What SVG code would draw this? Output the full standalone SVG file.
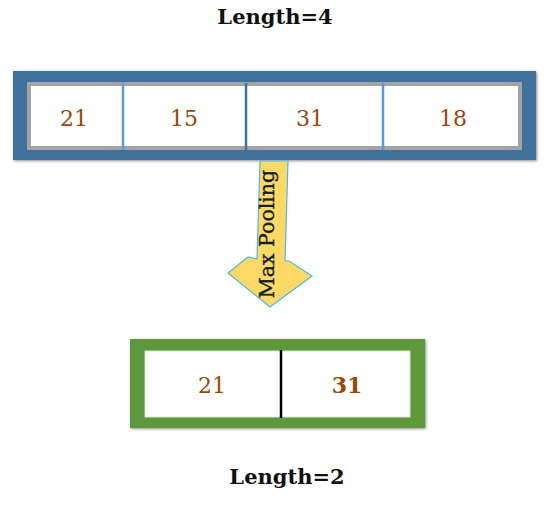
<svg xmlns="http://www.w3.org/2000/svg" width="550" height="505" viewBox="0 0 550 505">
<style>
.title{font-family:"DejaVu Serif","Liberation Serif",serif;font-weight:bold;font-size:21px;fill:#111;text-anchor:middle}
.num{font-family:"DejaVu Serif","Liberation Serif",serif;font-size:22px;fill:#984807;text-anchor:middle}
.lbl{font-family:"DejaVu Serif","Liberation Serif",serif;font-size:20.5px;fill:#10202c;stroke:#10202c;stroke-width:0.35;text-anchor:middle}
</style>
<defs>
<filter id="sh" x="-5%" y="-10%" width="110%" height="120%">
<feDropShadow dx="1" dy="1" stdDeviation="1.5" flood-color="#000" flood-opacity="0.45"/>
</filter>
</defs>
<g id="title-top"><text class="title" x="275" y="24">Length=4</text></g>
<g id="input-array">
<rect x="13" y="71" width="523" height="89" fill="#41709c" filter="url(#sh)"/>
<rect x="29" y="84" width="491" height="64" fill="#fff" stroke="#a3a3a3" stroke-width="4"/>
<line x1="123" y1="83" x2="123" y2="150" stroke="#5b9bd5" stroke-width="2.5"/>
<line x1="246" y1="83" x2="246" y2="150" stroke="#41709c" stroke-width="2.5"/>
<line x1="383" y1="83" x2="383" y2="150" stroke="#5b9bd5" stroke-width="2.5"/>
<text class="num" x="74" y="126">21</text>
<text class="num" x="184" y="126">15</text>
<text class="num" x="310" y="126">31</text>
<text class="num" x="453" y="126">18</text>
</g>
<g id="connectors">
<g id="max-pooling-arrow">
<polygon points="260,161 288,161 285,261 289,261 312,276 270,307 228,273 248,257 257,259" fill="#ffd966" stroke="#4bb8e6" stroke-width="1.2"/>
<text class="lbl" transform="translate(274,234) rotate(-90)">Max Pooling</text>
</g>
</g>
<g id="output-array">
<rect x="130" y="339" width="295" height="89" fill="#5f973d" filter="url(#sh)"/>
<rect x="145" y="351" width="265" height="66" fill="#fff" stroke="#d8e6d0" stroke-width="1"/>
<line x1="281" y1="350" x2="281" y2="418" stroke="#000" stroke-width="2.5"/>
<text class="num" x="212" y="393">21</text>
<text class="num" x="347" y="393" font-weight="bold">31</text>
</g>
<g id="title-bottom"><text class="title" x="287" y="484">Length=2</text></g>
</svg>
